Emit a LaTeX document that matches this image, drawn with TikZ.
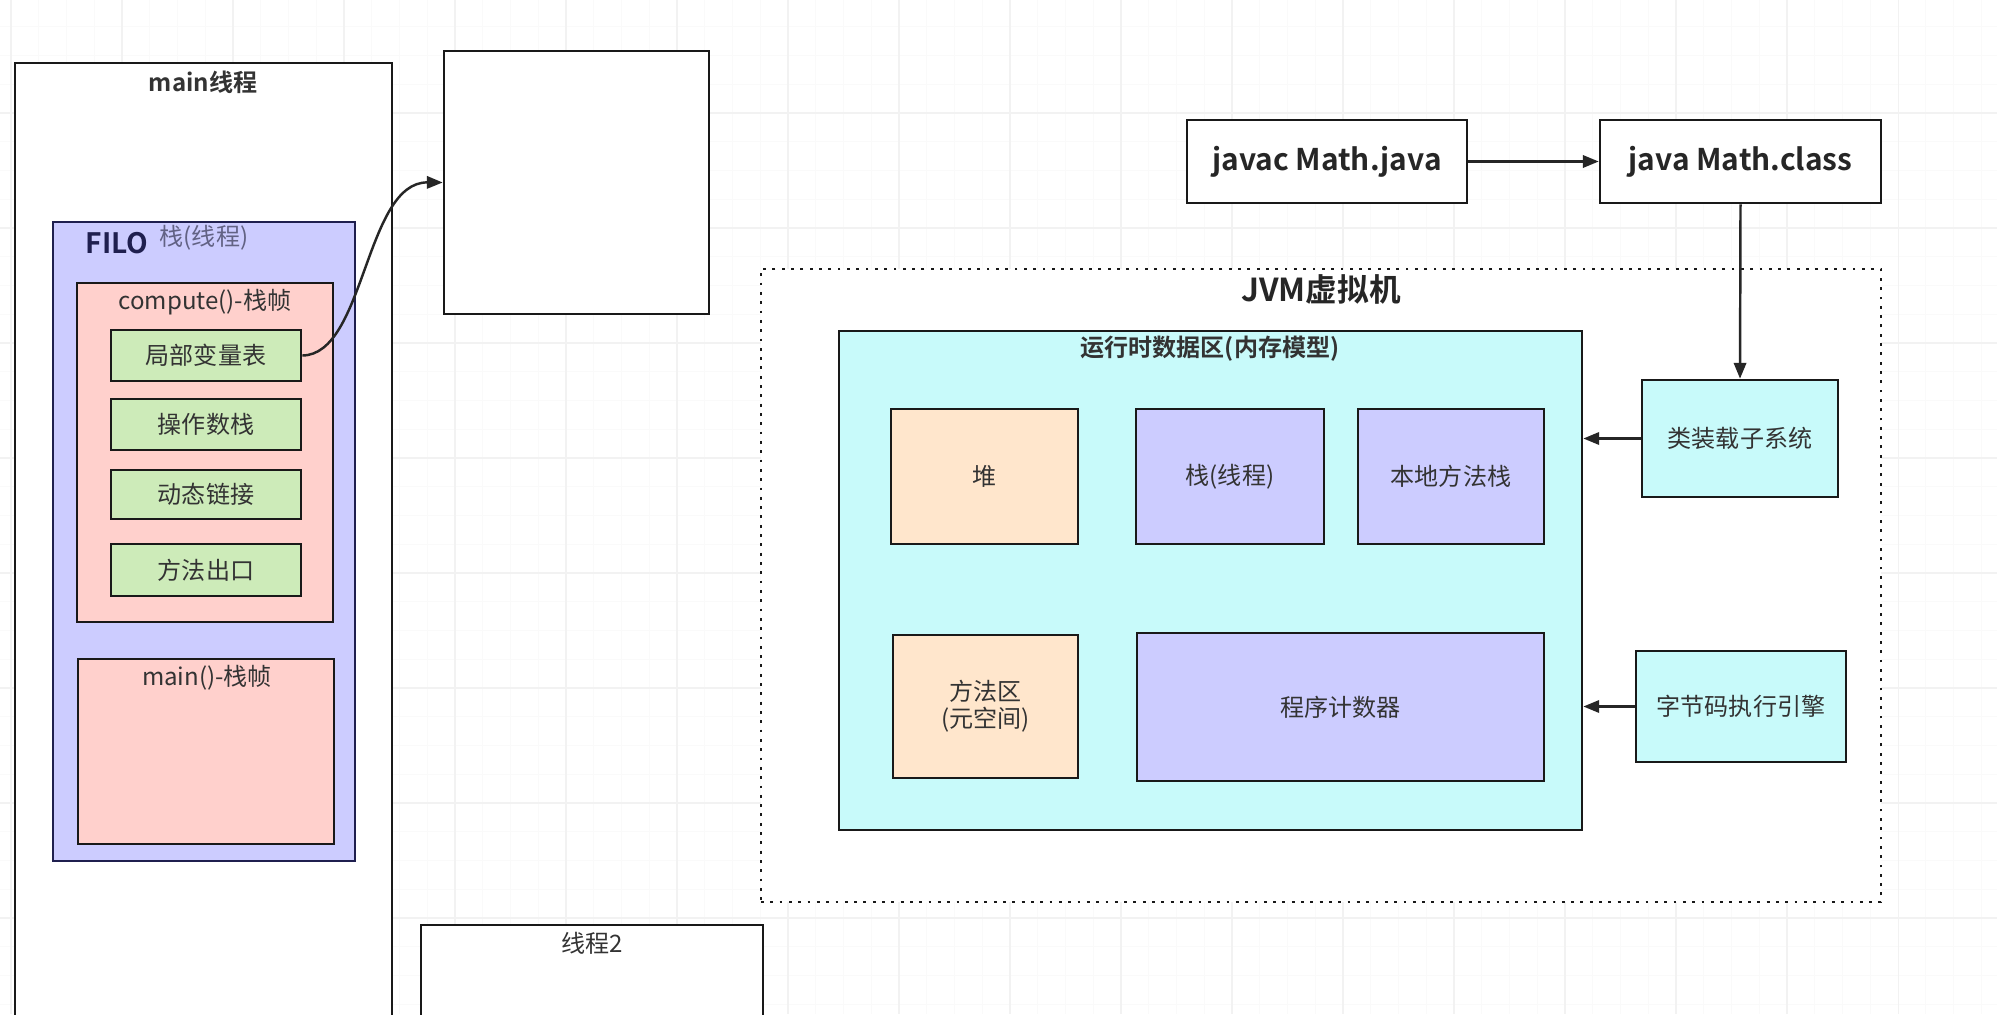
\documentclass[tikz,border=0pt]{standalone}
\usepackage{fontspec}
\setmainfont{Noto Sans CJK SC}[BoldFont={Noto Sans CJK SC Bold}]
\usetikzlibrary{arrows.meta,fit,positioning}

\definecolor{stackblue}{HTML}{CCCCFF}
\definecolor{framepink}{HTML}{FFD0CC}
\definecolor{slotgreen}{HTML}{CDEBB9}
\definecolor{areacyan}{HTML}{C8FAFA}
\definecolor{heaporange}{HTML}{FFE6CC}
\definecolor{navyline}{HTML}{1F1F4F}
\definecolor{labelgray}{HTML}{333333}

\begin{document}
\begin{tikzpicture}[x=0.02cm, y=-0.02cm, >={Triangle[length=9pt,width=7pt]},
  box/.style={draw=black!90, line width=1.5pt, inner sep=0pt},
  lbl/.style={inner sep=0pt, font=\fontsize{13.7}{15.5}\selectfont, text=labelgray},
  boldlbl/.style={lbl, font=\bfseries\fontsize{13.7}{15.5}\selectfont},
  titlelbl/.style={inner sep=0pt, font=\bfseries\fontsize{17}{20}\selectfont, text=black!85},
  flow/.style={->, line width=1.4pt, draw=black!85},
  gridminor/.style={gray!4, line width=0.6pt},
  gridmajor/.style={gray!10, line width=0.6pt}]

  % page and faint canvas grid
  \clip (0,0) rectangle (1997,1014);
  \fill[white] (0,0) rectangle (1997,1014);
  \foreach \gx in {11,38.75,...,2000} \draw[gridminor] (\gx,0) -- (\gx,1014);
  \foreach \gy in {-2,26.75,...,1020} \draw[gridminor] (0,\gy) -- (1997,\gy);
  \foreach \gx in {11,122,...,2000} \draw[gridmajor] (\gx,0) -- (\gx,1014);
  \foreach \gy in {-2,113,...,1020} \draw[gridmajor] (0,\gy) -- (1997,\gy);

  % main thread with its stack
  \node[box, fill=white, fit={(15,63) (392,1040)}] (mainthr) {};
  \node[boldlbl] (mainlbl) at (203,82) {main线程};
  \node[box, draw=navyline, fill=stackblue, fit={(53,222) (355,861)}] (stack) {};
  \node[inner sep=0pt, font=\bfseries\fontsize{16}{18}\selectfont, text=navyline] (filo) at (117,243) {FILO};
  \node[lbl, text=navyline!70] (stacklbl) at (204,238) {栈(线程)};

  % compute() frame
  \node[box, fill=framepink, fit={(77,283) (333,622)}] (compfr) {};
  \node[lbl] (complbl) at (205,302) {compute()-栈帧};
  \node[box, fill=slotgreen, fit={(111,330) (301,381)}, label={[lbl]center:局部变量表}] (locals) {};
  \node[box, fill=slotgreen, fit={(111,399) (301,450)}, label={[lbl]center:操作数栈}] (opstack) {};
  \node[box, fill=slotgreen, fit={(111,470) (301,519)}, label={[lbl]center:动态链接}] (dynlink) {};
  \node[box, fill=slotgreen, fit={(111,544) (301,596)}, label={[lbl]center:方法出口}] (retaddr) {};

  % main() frame
  \node[box, fill=framepink, fit={(78,659) (334,844)}] (mainfr) {};
  \node[lbl] (mainfrlbl) at (207,678) {main()-栈帧};

  % heap object and second thread
  \node[box, fill=white, fit={(444,51) (709,314)}] (object) {};
  \node[box, fill=white, fit={(421,925) (763,1040)}] (thread2) {};
  \node[lbl] (thread2lbl) at (592,943) {线程2};

  \draw[flow] (locals.east) .. controls (365,355) and (365,182) .. (object.west);

  % compile and run
  \node[box, fill=white, fit={(1187,120) (1467,203)}, label={[titlelbl]center:javac Math.java}] (javac) {};
  \node[box, fill=white, fit={(1600,120) (1881,203)}, label={[titlelbl]center:java Math.class}] (javarun) {};

  % JVM
  \node[box, fill=white, dash pattern=on 1.6pt off 3.7pt, fit={(761,269) (1881,902)}] (jvm) {};
  \node[inner sep=0pt, font=\bfseries\fontsize{18}{21}\selectfont, text=black!85] (jvmlbl) at (1321,289) {JVM虚拟机};

  \node[box, fill=areacyan, fit={(839,331) (1582,830)}] (rtdata) {};
  \node[boldlbl] (rtlbl) at (1210,349) {运行时数据区(内存模型)};
  \node[box, fill=heaporange, fit={(891,409) (1078,544)}, label={[lbl]center:堆}] (heap) {};
  \node[box, fill=stackblue, fit={(1136,409) (1324,544)}, label={[lbl]center:栈(线程)}] (jstack) {};
  \node[box, fill=stackblue, fit={(1358,409) (1544,544)}, label={[lbl]center:本地方法栈}] (native) {};
  \node[box, fill=heaporange, fit={(893,635) (1078,778)}] (metharea) {};
  \node[lbl, align=center] (methlbl) at (metharea.center) {方法区\\(元空间)};
  \node[box, fill=stackblue, fit={(1137,633) (1544,781)}, label={[lbl]center:程序计数器}] (pc) {};

  \node[box, fill=areacyan, fit={(1642,380) (1838,497)}, label={[lbl]center:类装载子系统}] (loader) {};
  \node[box, fill=areacyan, fit={(1636,651) (1846,762)}, label={[lbl]center:字节码执行引擎}] (engine) {};

  \draw[flow] (javac.east) -- (javarun.west);
  \draw[flow] (javarun.south) -- (loader.north);
  \draw[flow] (loader.west) -- (loader.west -| rtdata.east);
  \draw[flow] (engine.west) -- (engine.west -| rtdata.east);
\end{tikzpicture}
\end{document}
